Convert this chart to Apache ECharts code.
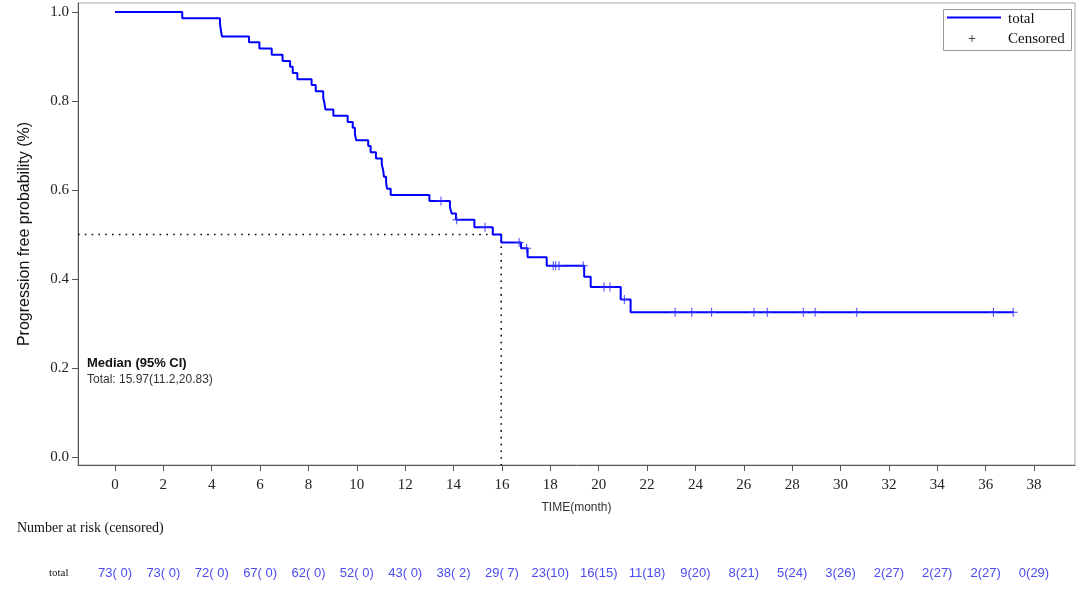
<!DOCTYPE html>
<html><head><meta charset="utf-8">
<script src="https://cdn.jsdelivr.net/npm/echarts@6/dist/echarts.min.js"></script>
<style>html,body{margin:0;padding:0;background:#fff}#c{width:1080px;height:589px}</style>
</head><body><div id="c"></div>
<script>
// Kaplan-Meier step points (time in months, survival probability)
const survTimes = [0, 2.78, 4.34, 4.38, 4.42, 5.54, 5.97, 6.48, 6.93, 7.24, 7.35, 7.54, 8.13, 8.30, 8.61, 8.66, 8.70, 9.03, 9.62, 9.83, 9.92, 9.97, 10.47, 10.57, 10.79, 11.03, 11.09, 11.12, 11.21, 11.25, 11.40, 13.00, 13.85, 13.92, 14.10, 14.86, 15.62, 15.97, 16.79, 17.06, 17.85, 19.40, 19.67, 20.91, 21.32, 37.14];
const survProb = [1.000, 0.986, 0.973, 0.959, 0.945, 0.932, 0.918, 0.904, 0.890, 0.877, 0.863, 0.849, 0.836, 0.822, 0.808, 0.795, 0.781, 0.767, 0.753, 0.740, 0.726, 0.712, 0.699, 0.685, 0.671, 0.658, 0.644, 0.630, 0.616, 0.603, 0.589, 0.575, 0.561, 0.547, 0.533, 0.516, 0.500, 0.482, 0.469, 0.449, 0.430, 0.405, 0.382, 0.354, 0.325, 0.325];
// Censored observations
const censTimes = [13.48, 14.13, 15.30, 16.71, 17.02, 18.12, 18.22, 18.36, 19.36, 20.22, 20.47, 21.06, 23.16, 23.85, 24.67, 26.42, 26.97, 28.46, 28.95, 30.67, 36.32, 37.14];
const censProb = [0.575, 0.533, 0.516, 0.482, 0.469, 0.430, 0.430, 0.430, 0.430, 0.382, 0.382, 0.354, 0.325, 0.325, 0.325, 0.325, 0.325, 0.325, 0.325, 0.325, 0.325, 0.325];
// Median
const medianTime = 15.97;
const medianProb = 0.5;
// Axis ticks
const xTicks = [0, 2, 4, 6, 8, 10, 12, 14, 16, 18, 20, 22, 24, 26, 28, 30, 32, 34, 36, 38];
const yTicks = [0.0, 0.2, 0.4, 0.6, 0.8, 1.0];
// Number at risk table
const riskTimes = [0, 2, 4, 6, 8, 10, 12, 14, 16, 18, 20, 22, 24, 26, 28, 30, 32, 34, 36, 38];
const riskN = [73, 73, 72, 67, 62, 52, 43, 38, 29, 23, 16, 11, 9, 8, 5, 3, 2, 2, 2, 0];
const riskCens = [0, 0, 0, 0, 0, 0, 0, 2, 7, 10, 15, 18, 20, 21, 24, 26, 27, 27, 27, 29];

const xMin = -1.53, xMax = 39.695, yMin = -0.018, yMax = 1.0202;

const riskLabel = {};
riskTimes.forEach((t, i) => {
  const c = riskCens[i] < 10 ? ' ' + riskCens[i] : '' + riskCens[i];
  riskLabel[t] = riskN[i] + '(' + c + ')';
});

const chart = echarts.init(document.getElementById('c'), null, {renderer: 'canvas'});
const serif = 'Liberation Serif';
const sans = 'Liberation Sans';
const plusPath = 'path://M4,0H5V4H9V5H5V9H4V5H0V4H4Z';

chart.setOption({
  animation: false,
  backgroundColor: '#fff',
  grid: [
    {left: 78, right: 5, top: 3, bottom: 124, show: true, borderColor: '#a8a8a8', borderWidth: 1, backgroundColor: 'transparent'},
    {left: 78, right: 5, top: 563, height: 1}
  ],
  xAxis: [
    {
      type: 'value', min: xMin, max: xMax, gridIndex: 0,
      axisLine: {show: true, onZero: false, lineStyle: {color: '#555', width: 1}},
      axisTick: {show: true, length: 6, customValues: xTicks, lineStyle: {color: '#555'}},
      axisLabel: {customValues: xTicks, fontFamily: serif, fontSize: 15, color: '#222', margin: 13, formatter: v => String(v)},
      splitLine: {show: false},
      name: 'TIME(month)', nameLocation: 'middle', nameGap: 37,
      nameTextStyle: {fontFamily: sans, fontSize: 12, color: '#333'}
    },
    {
      type: 'value', min: xMin, max: xMax, gridIndex: 1,
      axisLine: {show: false}, axisTick: {show: false}, splitLine: {show: false},
      axisLabel: {customValues: riskTimes, fontFamily: sans, fontSize: 13, color: '#4b4bf0', margin: 3,
        formatter: v => riskLabel[Math.round(v)] || ''}
    }
  ],
  yAxis: [
    {
      type: 'value', min: yMin, max: yMax, gridIndex: 0,
      axisLine: {show: true, onZero: false, lineStyle: {color: '#555', width: 1}},
      axisTick: {show: true, length: 6, customValues: yTicks, lineStyle: {color: '#555'}},
      axisLabel: {customValues: yTicks, fontFamily: serif, fontSize: 15, color: '#222', margin: 9, formatter: v => v.toFixed(1)},
      splitLine: {show: false},
      name: 'Progression free probability (%)', nameLocation: 'middle', nameGap: 45,
      nameTextStyle: {fontFamily: sans, fontSize: 16, color: '#111'}
    },
    {type: 'value', gridIndex: 1, show: false, min: 0, max: 1}
  ],
  series: [
    {
      type: 'line', name: 'total', step: 'end', xAxisIndex: 0, yAxisIndex: 0,
      data: survTimes.map((t, i) => [t, survProb[i]]),
      showSymbol: false, symbol: 'none',
      lineStyle: {color: '#0000ff', width: 2}, z: 3
    },
    {
      type: 'scatter', name: 'Censored', xAxisIndex: 0, yAxisIndex: 0,
      data: censTimes.map((t, i) => [t, censProb[i]]),
      symbol: plusPath, symbolSize: 9,
      itemStyle: {color: '#3030ff', opacity: 0.9}, z: 4
    },
    {
      type: 'line', name: 'median', xAxisIndex: 0, yAxisIndex: 0,
      data: [[xMin, medianProb], [medianTime, medianProb], [medianTime, yMin]],
      showSymbol: false, symbol: 'none', silent: true,
      lineStyle: {color: '#000', width: 1.6, type: [1.6, 5.2]}, z: 2
    }
  ],
  graphic: [
    {type: 'rect', left: 943, top: 9, shape: {width: 128, height: 41}, style: {fill: '#fff', stroke: '#999', lineWidth: 1}, z: 10},
    {type: 'line', shape: {x1: 947, y1: 17.5, x2: 1001, y2: 17.5}, style: {stroke: '#0000ff', lineWidth: 2}, z: 11},
    {type: 'text', left: 1008, top: 12, style: {text: 'total', font: '15px "Liberation Serif"', fill: '#111'}, z: 11},
    {type: 'text', left: 968, top: 32, style: {text: '+', font: '14px "Liberation Serif"', fill: '#111'}, z: 11},
    {type: 'text', left: 1008, top: 32, style: {text: 'Censored', font: '15px "Liberation Serif"', fill: '#111'}, z: 11},
    {type: 'text', left: 87, top: 357, style: {text: 'Median (95% CI)', font: 'bold 13px "Liberation Sans"', fill: '#111'}, z: 11},
    {type: 'text', left: 87, top: 374, style: {text: 'Total: ' + medianTime + '(11.2,20.83)', font: '12px "Liberation Sans"', fill: '#333'}, z: 11},
    {type: 'text', left: 17, top: 521, style: {text: 'Number at risk (censored)', font: '14px "Liberation Serif"', fill: '#111'}, z: 11},
    {type: 'text', left: 49, top: 568, style: {text: 'total', font: '11px "Liberation Serif"', fill: '#111'}, z: 11}
  ]
});
</script></body></html>
